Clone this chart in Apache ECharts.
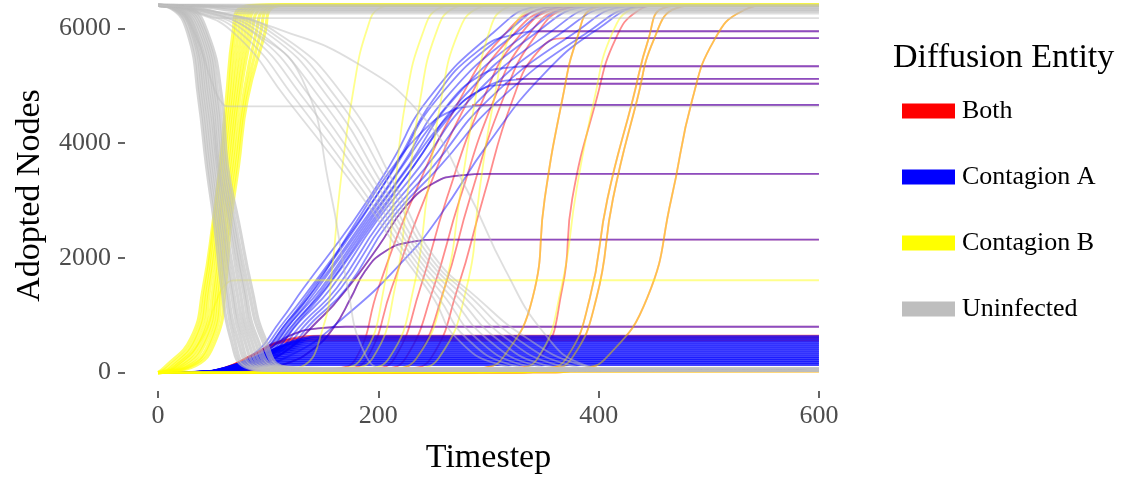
<!DOCTYPE html>
<html><head><meta charset="utf-8">
<script src="https://cdn.jsdelivr.net/npm/echarts@6/dist/echarts.min.js"></script>
<style>html,body{margin:0;padding:0;background:#fff}#c{width:1125px;height:480px}</style>
</head><body><div id="c"></div>
<script>
const xTicks = [0, 200, 400, 600];
const yTicks = [0, 2000, 4000, 6000];
const entities = ['Both', 'Contagion A', 'Contagion B', 'Uninfected'];
const entityColors = ['#ff0000', '#0000ff', '#ffff00', '#bebebe'];

// "Both" runs (red)
const bothRuns = [
  [[0,0],[130,0],[160,60],[180,260],[200,1470],[231,3030],[274,4760],[310,5800],[350,6350],[375,6400],[600,6400]],
  [[0,0],[140,0],[170,60],[190,260],[212,1470],[242,3030],[282,4760],[318,5800],[358,6350],[382,6400],[600,6400]],
  [[0,0],[160,0],[195,60],[215,260],[238,1470],[262,3030],[295,4760],[325,5800],[362,6350],[385,6400],[600,6400]],
  [[0,0],[170,0],[205,60],[225,260],[250,1470],[274,3030],[305,4760],[333,5800],[368,6350],[392,6400],[600,6400]],
  [[0,0],[180,0],[215,60],[235,260],[260,1470],[283,3030],[313,4760],[340,5800],[372,6350],[395,6400],[600,6400]],
  [[0,0],[190,0],[225,60],[248,260],[272,1470],[295,3030],[322,4760],[345,5600],[370,5830],[600,5830]],
  [[0,0],[270,0],[315,60],[346,260],[367,1470],[376,3030],[398,4760],[415,5800],[435,6300],[455,6400],[600,6400]],
  [[0,0],[260,0],[295,80],[313,260],[340,1300],[351,3030],[367,4760],[380,5800],[395,6350],[415,6400],[600,6400]],
  [[0,0],[320,0],[350,60],[371,260],[392,1300],[408,3030],[431,4760],[445,5800],[458,6350],[480,6400],[600,6400]],
  [[0,0],[325,0],[355,60],[376,260],[398,1300],[413,3030],[435,4760],[450,5800],[470,6350],[490,6400],[600,6400]],
  [[0,0],[350,0],[385,70],[407,260],[444,1300],[466,3030],[485,4760],[505,5800],[530,6300],[555,6400],[600,6400]],
  [[345,5950],[600,5950]],
  [[330,5340],[600,5340]],
  [[325,5120],[600,5120]],
  [[315,5035],[600,5035]],
  [[285,4665],[600,4665]],
  [[0,0],[70,30],[110,300],[145,900],[172,1470],[200,2200],[225,2900],[250,3300],[275,3440],[300,3464],[600,3464]],
  [[0,0],[80,30],[115,150],[140,400],[160,800],[175,1300],[188,1770],[205,2100],[230,2280],[255,2320],[600,2320]],
  [[0,0],[50,20],[80,150],[100,400],[120,650],[145,770],[170,800],[600,800]],
  [[0,0],[100,5],[200,15],[600,20]]
];
const bothBand = [
  [[0,0],[35,5],[60,80],[85,300],[110,520],[140,560],[600,560]],
  [[0,0],[35,5],[62,90],[88,330],[115,560],[145,600],[600,600]],
  [[0,0],[35,5],[65,100],[92,350],[120,590],[150,640],[600,640]]
];

// "Contagion A" runs (blue)
const contagionARuns = [
  [[0,0],[50,30],[85,300],[111,900],[132,1470],[177,2630],[210,3600],[245,4760],[304,5920],[346,6380],[370,6400],[600,6400]],
  [[0,0],[52,30],[88,300],[115,900],[138,1470],[182,2630],[216,3600],[253,4760],[316,5920],[358,6380],[382,6400],[600,6400]],
  [[0,0],[55,30],[91,300],[118,900],[143,1470],[186,2630],[221,3600],[260,4760],[325,5920],[368,6380],[392,6400],[600,6400]],
  [[0,0],[57,30],[94,300],[122,900],[148,1470],[190,2630],[227,3600],[268,4760],[335,5920],[380,6380],[404,6400],[600,6400]],
  [[0,0],[60,30],[97,300],[125,900],[152,1470],[194,2630],[232,3600],[275,4760],[343,5920],[390,6380],[414,6400],[600,6400]],
  [[0,0],[62,30],[100,300],[129,900],[157,1470],[198,2630],[238,3600],[283,4760],[355,5920],[402,6380],[426,6400],[600,6400]],
  [[0,0],[65,30],[103,300],[133,900],[162,1470],[202,2630],[244,3600],[292,4760],[366,5920],[414,6380],[438,6400],[600,6400]],
  [[0,0],[67,30],[106,300],[137,900],[166,1470],[206,2630],[250,3600],[300,4760],[378,5920],[425,6380],[450,6400],[600,6400]],
  [[0,0],[70,30],[110,300],[141,900],[171,1470],[210,2630],[256,3600],[310,4760],[389,5920],[437,6380],[460,6400],[600,6400]],
  [[0,0],[70,30],[120,300],[171,1000],[225,2000],[256,2740],[300,4000],[350,5200],[400,6000],[440,6380],[465,6400],[600,6400]],
  [[0,0],[55,30],[90,300],[118,900],[140,1470],[183,2630],[215,3600],[250,4760],[290,5600],[325,5900],[350,5950],[600,5950]],
  [[370,5830],[600,5830]],
  [[0,0],[60,30],[95,300],[122,900],[145,1470],[188,2630],[222,3600],[260,4600],[290,5150],[320,5320],[340,5340],[600,5340]],
  [[0,0],[62,30],[98,300],[126,900],[150,1470],[192,2630],[228,3600],[265,4500],[295,4950],[320,5100],[340,5120],[600,5120]],
  [[0,0],[64,30],[100,300],[128,900],[153,1470],[196,2630],[232,3600],[262,4400],[290,4900],[315,5020],[335,5035],[600,5035]],
  [[0,0],[58,30],[92,300],[120,900],[142,1470],[180,2630],[210,3500],[240,4200],[265,4550],[290,4650],[310,4665],[600,4665]],
  [[0,0],[70,30],[110,300],[145,900],[172,1470],[200,2200],[225,2900],[250,3300],[275,3440],[300,3464],[600,3464]],
  [[0,0],[80,30],[115,150],[140,400],[160,800],[175,1300],[188,1770],[205,2100],[230,2280],[255,2320],[600,2320]],
  [[0,0],[50,20],[80,150],[100,400],[120,650],[145,770],[170,800],[600,800]]
];
const contagionABand = [
  [[0,0],[30,5],[55,25],[75,80],[95,125],[115,140],[600,140]],
  [[0,0],[32,5],[57,30],[78,100],[98,155],[118,175],[600,175]],
  [[0,0],[30,5],[56,35],[80,120],[100,190],[122,210],[600,210]],
  [[0,0],[33,5],[58,40],[82,140],[103,220],[125,245],[600,245]],
  [[0,0],[31,5],[57,45],[83,160],[105,250],[128,280],[600,280]],
  [[0,0],[34,5],[60,50],[85,180],[108,285],[130,315],[600,315]],
  [[0,0],[32,5],[58,55],[86,200],[110,315],[133,350],[600,350]],
  [[0,0],[35,5],[61,60],[88,220],[112,345],[135,385],[600,385]],
  [[0,0],[33,5],[60,65],[90,240],[114,380],[138,420],[600,420]],
  [[0,0],[36,5],[62,70],[92,260],[116,410],[140,455],[600,455]],
  [[0,0],[34,5],[61,75],[93,280],[118,440],[142,490],[600,490]],
  [[0,0],[37,5],[63,80],[95,300],[120,475],[145,525],[600,525]],
  [[0,0],[35,5],[62,85],[96,320],[122,505],[148,560],[600,560]],
  [[0,0],[38,5],[64,90],[98,340],[124,535],[150,595],[600,595]],
  [[0,0],[36,5],[63,95],[100,360],[126,565],[152,630],[600,630]]
];

// "Contagion B" runs (yellow)
const contagionBFast = [
  [[0,0],[6,90],[30,600],[41,1470],[50,2630],[56,3600],[62,4760],[68,5920],[74,6350],[90,6400],[600,6400]],
  [[0,0],[9,90],[33,600],[43,1470],[51,2630],[57,3600],[64,4760],[70,5920],[77,6350],[92,6400],[600,6400]],
  [[0,0],[12,90],[35,600],[45,1470],[53,2630],[59,3600],[66,4760],[73,5920],[80,6350],[95,6400],[600,6400]],
  [[0,0],[14,90],[38,600],[47,1470],[55,2630],[61,3600],[68,4760],[76,5920],[83,6350],[98,6400],[600,6400]],
  [[0,0],[17,90],[40,600],[50,1470],[56,2630],[63,3600],[70,4760],[79,5920],[86,6350],[100,6400],[600,6400]],
  [[0,0],[19,90],[43,600],[52,1470],[58,2630],[65,3600],[72,4760],[82,5920],[89,6350],[103,6400],[600,6400]],
  [[0,0],[22,90],[45,600],[54,1470],[60,2630],[67,3600],[74,4760],[85,5920],[93,6350],[106,6400],[600,6400]],
  [[0,0],[25,90],[48,600],[56,1470],[62,2630],[69,3600],[77,4760],[89,5920],[97,6350],[110,6400],[600,6400]],
  [[0,0],[27,90],[50,600],[58,1470],[64,2630],[71,3600],[79,4760],[93,5920],[100,6350],[113,6400],[600,6400]],
  [[0,0],[30,90],[53,600],[61,1470],[66,2630],[73,3600],[81,4760],[97,5920],[103,6350],[116,6400],[600,6400]]
];
const contagionBRuns = [
  [[0,0],[15,90],[40,600],[52,1200],[62,1550],[72,1610],[600,1610]],
  [[0,0],[100,0],[130,100],[150,800],[158,1800],[165,3200],[178,5000],[190,6000],[201,6350],[215,6400],[600,6400]],
  [[0,0],[125,0],[160,60],[185,260],[205,1470],[215,3200],[225,4760],[240,5900],[255,6350],[270,6400],[600,6400]],
  [[0,0],[135,0],[170,60],[195,260],[215,1470],[227,3200],[238,4760],[252,5900],[268,6350],[283,6400],[600,6400]],
  [[0,0],[150,0],[185,60],[210,260],[232,1470],[245,3200],[257,4760],[272,5900],[290,6350],[305,6400],[600,6400]],
  [[0,0],[175,0],[210,60],[235,260],[260,1470],[275,3200],[288,4760],[300,5900],[315,6350],[330,6400],[600,6400]],
  [[0,0],[195,0],[230,60],[255,260],[280,1470],[292,3200],[305,4760],[320,5900],[340,6350],[355,6400],[600,6400]],
  [[0,0],[285,0],[320,60],[345,260],[366,1470],[380,3200],[396,4760],[412,5900],[432,6350],[450,6400],[600,6400]],
  [[0,0],[260,0],[295,80],[313,260],[340,1300],[351,3030],[367,4760],[380,5800],[395,6350],[415,6400],[600,6400]],
  [[0,0],[320,0],[350,60],[371,260],[392,1300],[408,3030],[431,4760],[445,5800],[458,6350],[480,6400],[600,6400]],
  [[0,0],[325,0],[355,60],[376,260],[398,1300],[413,3030],[435,4760],[450,5800],[470,6350],[490,6400],[600,6400]],
  [[0,0],[350,0],[385,70],[407,260],[444,1300],[466,3030],[485,4760],[505,5800],[530,6300],[555,6400],[600,6400]],
  [[0,0],[150,10],[600,25]],
  [[0,0],[200,20],[600,40]],
  [[0,0],[100,15],[600,15]]
];

// "Uninfected" runs (grey)
const uninfectedFast = [
  [[0,6400],[12,6350],[27,5920],[37,4760],[44,3600],[51,2630],[58,1470],[66,600],[79,100],[100,40],[600,40]],
  [[0,6400],[13,6350],[29,5920],[39,4760],[46,3600],[53,2630],[61,1470],[69,600],[82,100],[105,40],[600,40]],
  [[0,6400],[14,6350],[31,5920],[41,4760],[48,3600],[55,2630],[63,1470],[72,600],[86,100],[110,45],[600,45]],
  [[0,6400],[15,6350],[32,5920],[43,4760],[50,3600],[57,2630],[66,1470],[75,600],[89,100],[115,50],[600,50]],
  [[0,6400],[16,6350],[34,5920],[45,4760],[52,3600],[59,2630],[68,1470],[78,600],[93,100],[120,50],[600,50]],
  [[0,6400],[17,6350],[35,5920],[47,4760],[54,3600],[61,2630],[71,1470],[81,600],[97,100],[125,50],[600,50]],
  [[0,6400],[18,6350],[37,5920],[49,4760],[55,3600],[64,2630],[74,1470],[84,600],[101,100],[130,55],[600,55]],
  [[0,6400],[20,6350],[39,5920],[51,4760],[57,3600],[66,2630],[77,1470],[87,600],[105,100],[135,60],[600,60]],
  [[0,6400],[22,6350],[41,5920],[53,4760],[59,3600],[68,2630],[79,1470],[90,600],[108,100],[140,60],[600,60]],
  [[0,6400],[24,6350],[43,5920],[55,4760],[61,3600],[70,2630],[82,1470],[94,600],[112,100],[145,60],[600,60]],
  [[0,6400],[27,6350],[45,5920],[58,4760],[63,3600],[73,2630],[85,1470],[97,600],[115,100],[150,70],[600,70]]
];
const uninfectedTop = [
  [[0,6400],[600,6400]],
  [[0,6400],[40,6395],[90,6375],[130,6370],[600,6370]],
  [[0,6400],[40,6390],[80,6345],[120,6335],[600,6335]],
  [[0,6400],[35,6390],[70,6310],[100,6300],[600,6300]]
];
const uninfectedRuns = [
  [[0,6400],[30,6390],[60,6275],[90,6260],[600,6260]],
  [[0,6400],[25,6380],[40,6250],[55,6180],[600,6180]],
  [[0,6400],[15,6350],[33,5920],[50,5000],[58,4700],[65,4640],[600,4640]],
  [[0,6400],[30,6300],[70,5900],[117,4760],[180,3200],[222,2040],[250,1300],[271,600],[310,140],[350,40],[600,30]],
  [[0,6400],[33,6300],[76,5900],[125,4760],[185,3200],[226,2040],[255,1300],[280,600],[320,140],[360,40],[600,30]],
  [[0,6400],[36,6300],[82,5900],[133,4760],[191,3200],[230,2040],[261,1300],[289,600],[330,140],[370,40],[600,30]],
  [[0,6400],[39,6300],[88,5900],[140,4760],[196,3200],[234,2040],[267,1300],[298,600],[340,140],[380,40],[600,30]],
  [[0,6400],[42,6300],[94,5900],[148,4760],[201,3200],[238,2040],[273,1300],[307,600],[350,140],[390,40],[600,30]],
  [[0,6400],[45,6300],[100,5900],[156,4760],[206,3200],[242,2040],[279,1300],[316,600],[361,140],[400,40],[600,30]],
  [[0,6400],[48,6300],[105,5900],[163,4760],[212,3200],[246,2040],[285,1300],[325,600],[372,140],[410,40],[600,30]],
  [[0,6400],[50,6300],[110,5900],[171,4760],[217,3200],[250,2040],[290,1300],[335,600],[383,140],[420,40],[600,30]],
  [[0,6400],[50,6300],[111,5975],[180,5400],[240,4470],[280,3200],[315,1800],[350,700],[385,150],[420,40],[600,30]],
  [[0,6400],[40,6300],[90,5900],[131,5110],[156,3200],[172,1500],[186,400],[205,60],[230,30],[600,30]]
];

const FONT = 'Liberation Serif';
// [runs, entity index, line width, opacity] in drawing order
const groups = [
  [bothBand, 0, 2.2, 0.6],
  [bothRuns, 0, 1.8, 0.45],
  [contagionABand, 1, 2.6, 0.75],
  [contagionARuns, 1, 1.8, 0.45],
  [contagionBFast, 2, 3.2, 0.6],
  [contagionBRuns, 2, 1.8, 0.45],
  [uninfectedFast, 3, 3.2, 0.65],
  [uninfectedTop, 3, 3.2, 0.7],
  [uninfectedRuns, 3, 1.8, 0.5]
];
const series = [];
groups.forEach(([runs, k, w, op]) => {
  runs.forEach(d => series.push({
    type: 'line', name: entities[k], data: d, smooth: 0.5,
    showSymbol: false, symbol: 'none', silent: true, animation: false,
    lineStyle: { color: entityColors[k], width: w, opacity: op },
    itemStyle: { color: entityColors[k], opacity: 1 },
    emphasis: { disabled: true }
  }));
});

const chart = echarts.init(document.getElementById('c'), null, { renderer: 'canvas' });
chart.setOption({
  backgroundColor: '#ffffff',
  animation: false,
  title: {
    text: 'Diffusion Entity', left: 888, top: 36,
    textStyle: { fontFamily: FONT, fontSize: 34, fontWeight: 'normal', color: '#000' }
  },
  legend: {
    data: entities.map((n, i) => ({ name: n, itemStyle: { color: entityColors[i], opacity: 1 } })),
    orient: 'vertical', left: 897, top: 93, icon: 'rect',
    itemWidth: 53, itemHeight: 15, itemGap: 40, selectedMode: false,
    itemStyle: { opacity: 1, borderWidth: 0 },
    textStyle: { fontFamily: FONT, fontSize: 26, color: '#000', lineHeight: 26, padding: [0, 0, 0, 2] }
  },
  grid: { left: 125, top: 0, width: 727, height: 393.5, containLabel: false },
  xAxis: {
    type: 'value', min: -30, max: 630,
    axisLine: { show: false, onZero: false }, splitLine: { show: false },
    axisTick: { show: true, customValues: xTicks, length: 7, lineStyle: { color: '#333', width: 1.5 } },
    axisLabel: { customValues: xTicks, fontFamily: FONT, fontSize: 26, color: '#4d4d4d', margin: 12,
      formatter: v => String(v) },
    name: 'Timestep', nameLocation: 'middle', nameGap: 50,
    nameTextStyle: { fontFamily: FONT, fontSize: 34, color: '#000' }
  },
  yAxis: {
    type: 'value', min: -320, max: 6495,
    axisLine: { show: false, onZero: false }, splitLine: { show: false },
    axisTick: { show: true, customValues: yTicks, length: 7, lineStyle: { color: '#333', width: 1.5 } },
    axisLabel: { customValues: yTicks, fontFamily: FONT, fontSize: 26, color: '#4d4d4d', margin: 14,
      formatter: v => String(v) },
    name: 'Adopted Nodes', nameLocation: 'middle', nameGap: 78,
    nameTextStyle: { fontFamily: FONT, fontSize: 34, color: '#000' }
  },
  series: series
});
</script>
</body></html>
